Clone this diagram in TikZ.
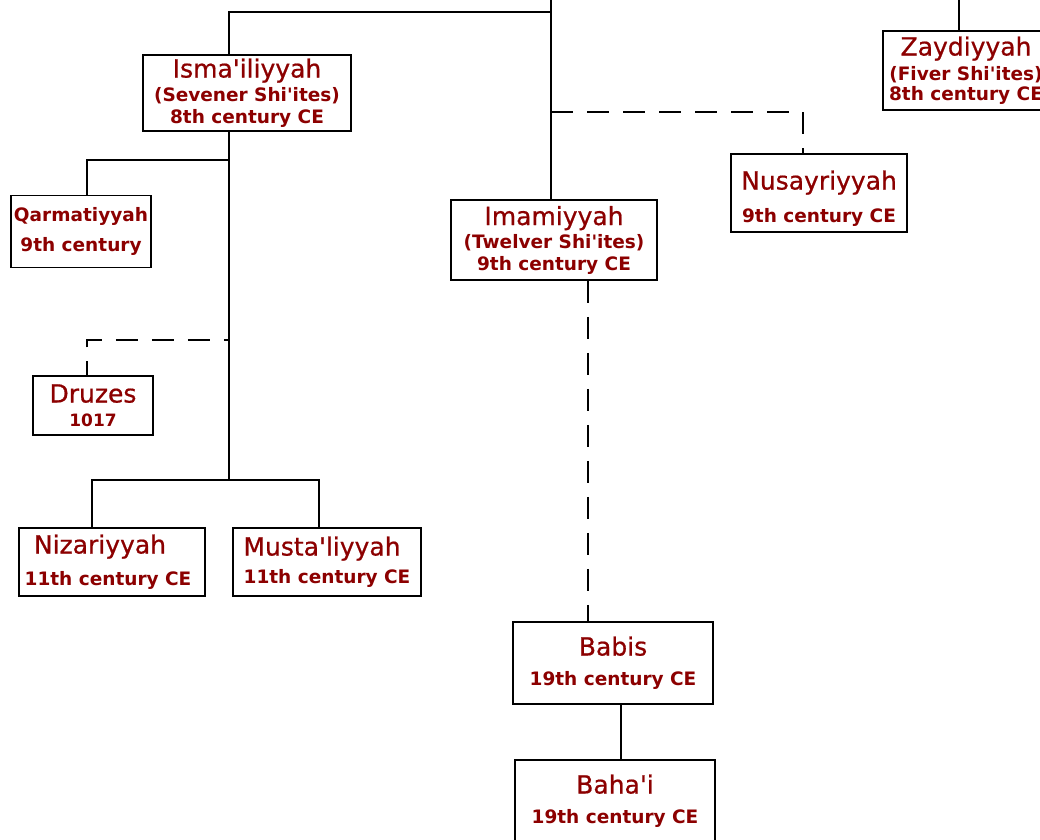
\documentclass[tikz,border=0pt]{standalone}
\usepackage{fontspec}
\setmainfont{DejaVu Sans}[Ligatures=TeXOff]
\newfontfamily\headfont{DejaVu Sans}[Ligatures=TeXOff,FakeBold=0.7]
\usepackage{tikz}

\definecolor{sectred}{RGB}{140,0,0}
\newcommand{\sectname}[1]{{\headfont\fontsize{25}{18}\selectfont\mdseries #1}}

\begin{document}
\begin{tikzpicture}[x=1pt,y=-1pt,
  sect/.style={draw=black,line width=1.5pt,fill=white,align=center,inner sep=0pt,
    text=sectred,font=\fontsize{18.5}{18}\selectfont\bfseries,
    execute at begin node={\lineskiplimit=-50pt\relax}},
  link/.style={line width=1.5pt},
  dlink/.style={line width=1.5pt,dash pattern=on 22pt off 14pt}]
\useasboundingbox[fill=white] (0,0) rectangle (1040,839);
\clip (0,0) rectangle (1040,839);

%Branch points
\coordinate (top) at (551,0);
\coordinate (zaytop) at (959,0);
\coordinate (fork) at (551,12);
\coordinate (imamfork) at (551,112);
\coordinate (qarmfork) at (229,160);
\coordinate (druzfork) at (229,340);
\coordinate (ismafork) at (229,480);

% Sevener branch
\node[sect,minimum width=208pt,minimum height=76pt] (isma) at (247,93)
  {\sectname{Isma'iliyyah}\\[6pt] (Sevener Shi'ites)\\[4pt] 8th century CE};
\node[sect,minimum width=140pt,minimum height=72pt] (qarm) at (81,231.5)
  {Qarmatiyyah\\[12pt] 9th century};
\node[sect,minimum width=120pt,minimum height=59pt] (druz) at (93,405.5)
  {\sectname{Druzes}\\[6pt] {\fontsize{17}{18}\selectfont 1017}};
\node[sect,minimum width=186pt,minimum height=68pt] (niza) at (112,562)
  {\sectname{Nizariyyah}\hspace*{24pt}\\[14pt] 11th century CE\hspace*{8pt}};
\node[sect,minimum width=188pt,minimum height=68pt] (must) at (327,562)
  {\sectname{Musta'liyyah}\hspace*{10pt}\\[10pt] 11th century CE};

% Fiver branch
\node[sect,minimum width=166pt,minimum height=79pt] (zayd) at (966,70.5)
  {\sectname{Zaydiyyah}\\[7pt] (Fiver Shi'ites)\\[2pt] 8th century CE};

% Twelver branch
\node[sect,minimum width=206pt,minimum height=80pt] (imam) at (554,240)
  {\sectname{Imamiyyah}\\[5pt] (Twelver Shi'ites)\\[4pt] 9th century CE};
\node[sect,minimum width=176pt,minimum height=78pt] (nusa) at (819,193)
  {\rule{0pt}{30pt}\sectname{Nusayriyyah}\\[15pt] 9th century CE};
\node[sect,minimum width=200pt,minimum height=82pt] (babi) at (613,663)
  {\sectname{Babis}\\[12pt] 19th century CE};
\node[sect,minimum width=200pt,minimum height=82pt] (baha) at (615,801)
  {\sectname{Baha'i}\\[12pt] 19th century CE};

% Connectors
\draw[link] ([xshift=-18pt]isma.north) |- (fork);
\draw[link] (top) -- (top |- imam.north);
\draw[link] (zaytop) -- (zaytop |- zayd.north);
\draw[link] ([xshift=-18pt]isma.south) -- (ismafork);
\draw[link] (qarmfork) -| ([xshift=6pt]qarm.north);
\draw[dlink,dash phase=8pt] ([xshift=-6pt]druz.north) |- (druzfork);
\draw[link] ([xshift=-20pt]niza.north) |- (ismafork) -| ([xshift=-8pt]must.north);
\draw[dlink] (imamfork) -| ([xshift=-16pt]nusa.north);
\draw[dlink] ([xshift=34pt]imam.south) -- ([xshift=-25pt]babi.north);
\draw[link] ([xshift=8pt]babi.south) -- ([xshift=6pt]baha.north);

\end{tikzpicture}
\end{document}
